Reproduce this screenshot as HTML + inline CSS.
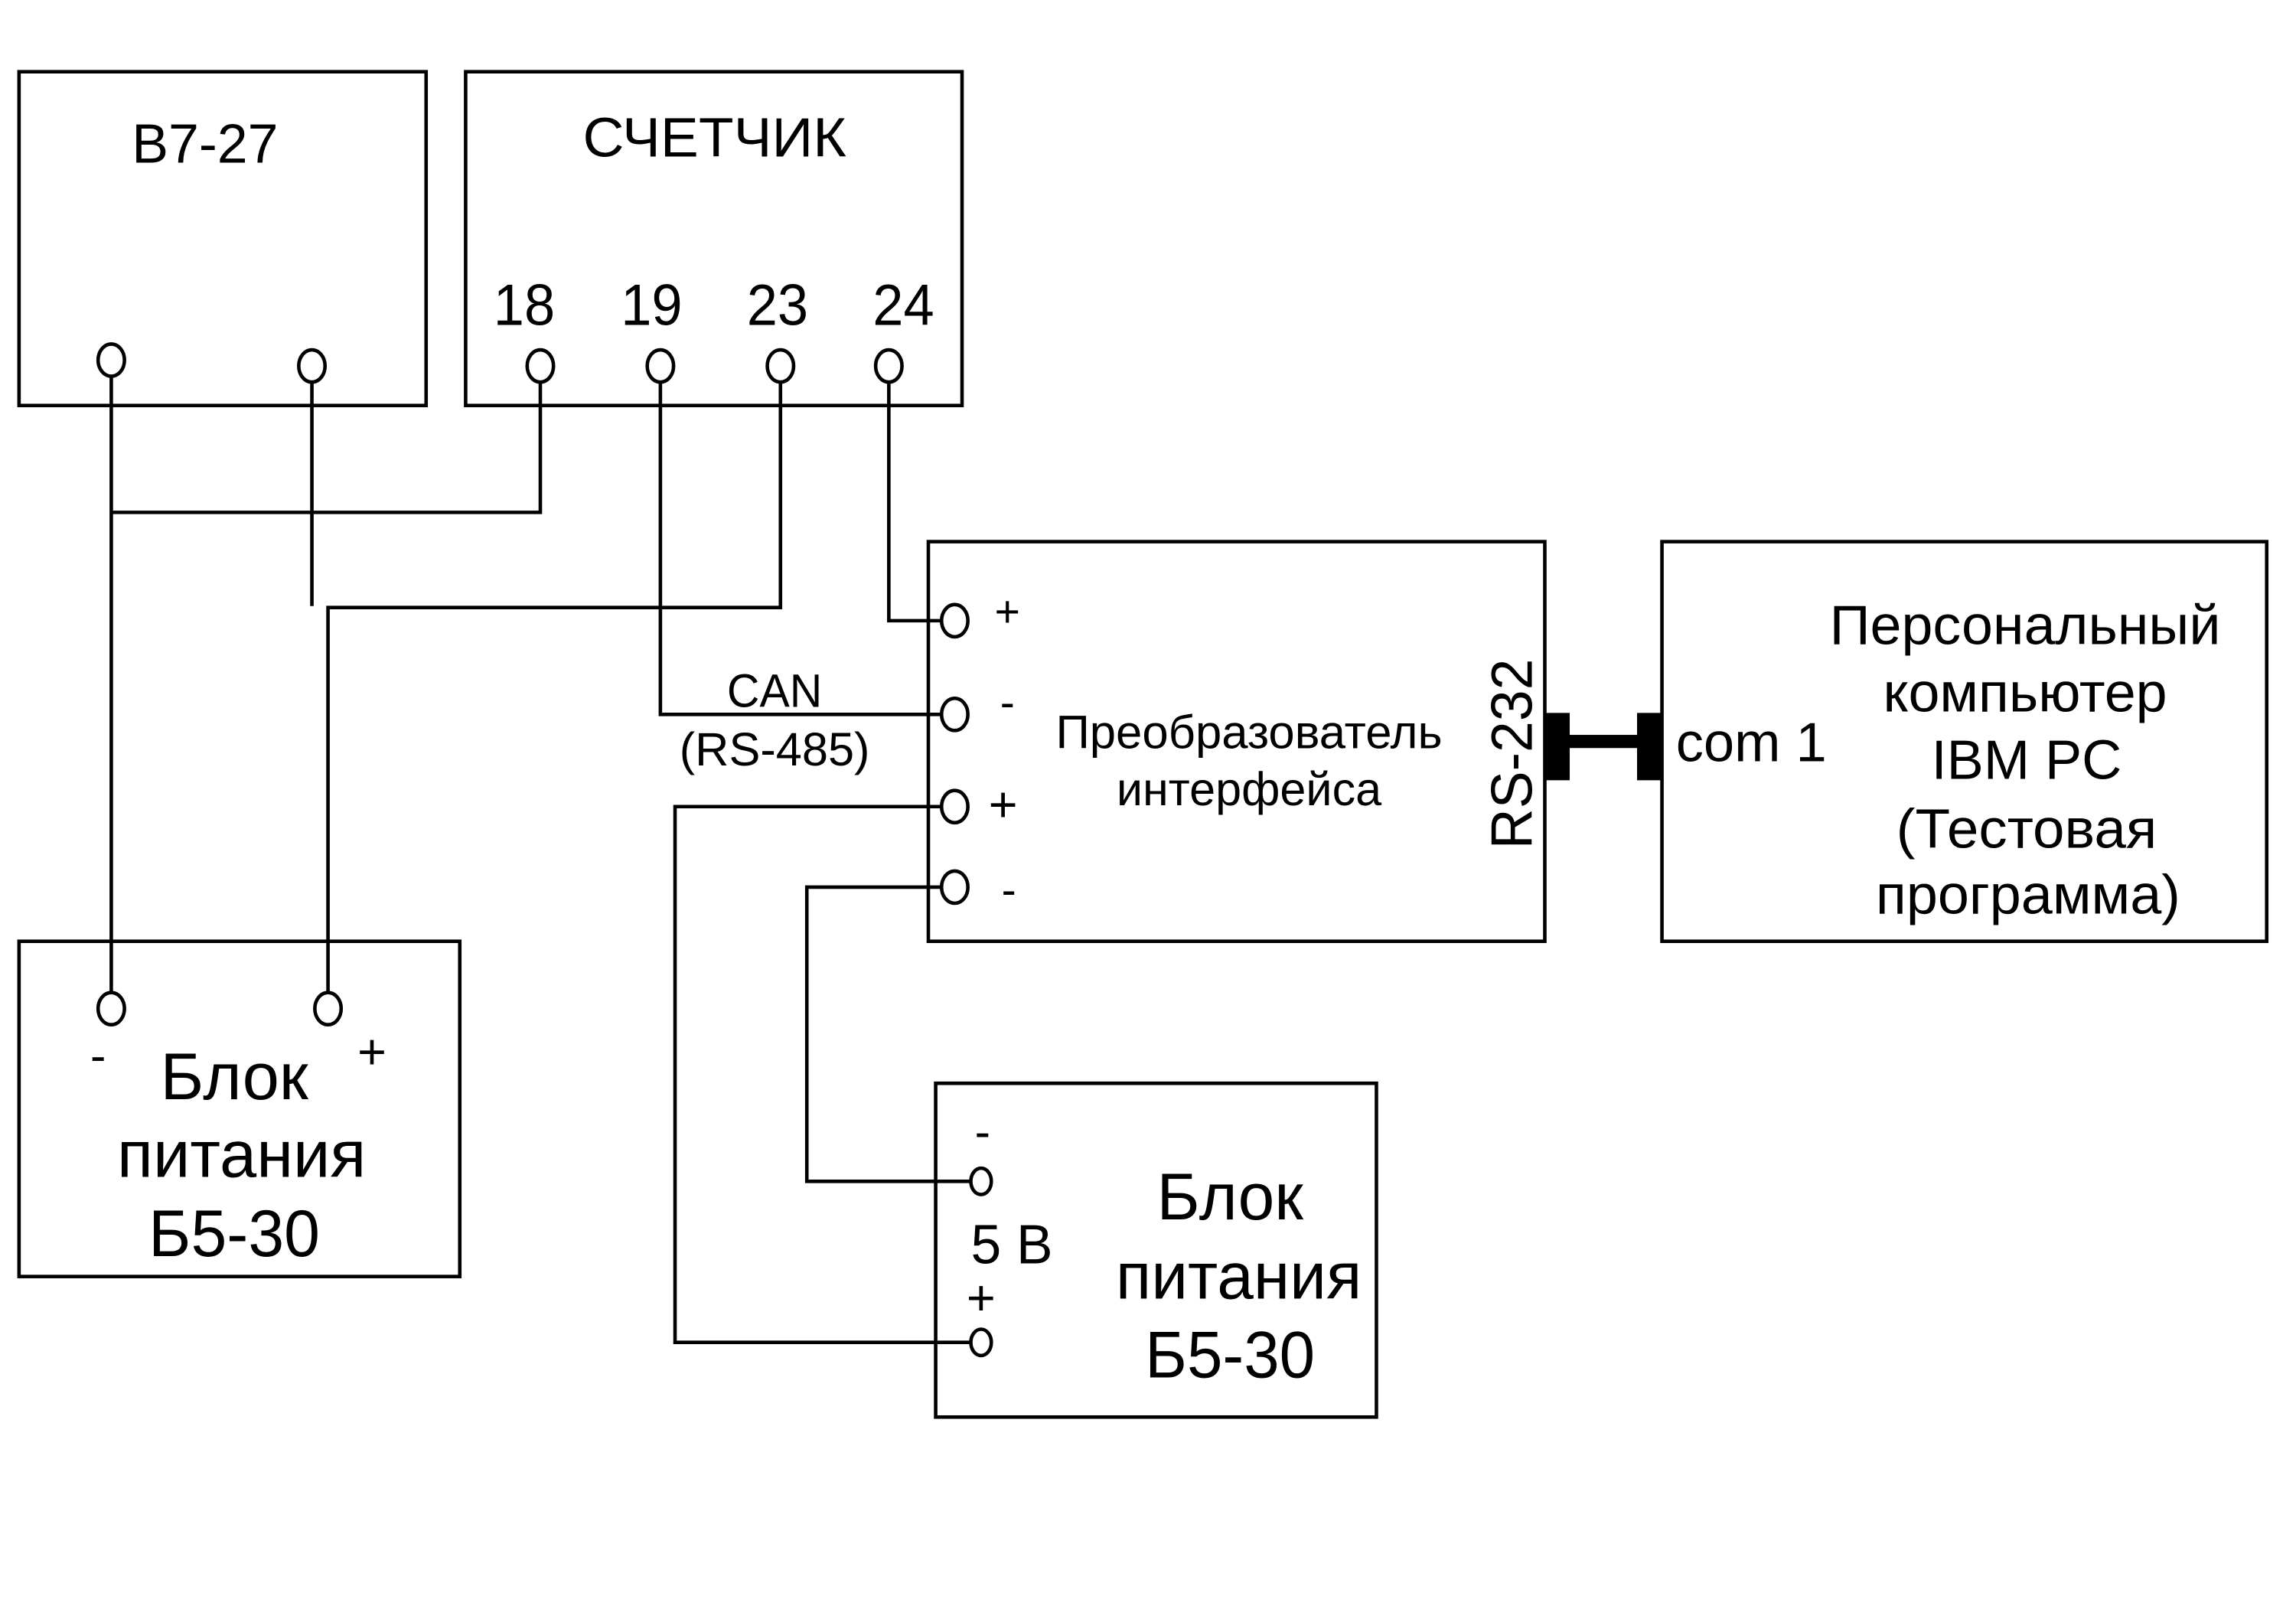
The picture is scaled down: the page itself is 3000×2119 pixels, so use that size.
<!DOCTYPE html>
<html><head><meta charset="utf-8"><style>html,body{margin:0;padding:0;background:#fff}svg{display:block}</style></head>
<body>
<svg width="3000" height="2119" viewBox="0 0 1568 1108" preserveAspectRatio="none" xmlns="http://www.w3.org/2000/svg" font-family="Liberation Sans, Arial, sans-serif" fill="#000">
<g fill="none" stroke="#000" stroke-width="2.4">
<rect x="13" y="49" width="278" height="228"/>
<rect x="318" y="49" width="339" height="228"/>
<rect x="634" y="370" width="421" height="273"/>
<rect x="1135" y="370" width="413" height="273"/>
<rect x="13" y="643" width="301" height="229"/>
<rect x="639" y="740" width="301" height="228"/>
<polyline points="76,257 76,678"/>
<polyline points="76,350 369,350 369,261"/>
<polyline points="213,261 213,414"/>
<polyline points="224,678 224,415 533,415 533,261"/>
<polyline points="451,261 451,488 642,488"/>
<polyline points="607,261 607,424 642,424"/>
<polyline points="642,551 461,551 461,917 662,917"/>
<polyline points="642,606 551,606 551,807 662,807"/>
<ellipse cx="76" cy="246" rx="9" ry="11"/>
<ellipse cx="213" cy="250" rx="9" ry="11"/>
<ellipse cx="369" cy="250" rx="9" ry="11"/>
<ellipse cx="451" cy="250" rx="9" ry="11"/>
<ellipse cx="533" cy="250" rx="9" ry="11"/>
<ellipse cx="607" cy="250" rx="9" ry="11"/>
<ellipse cx="652" cy="424" rx="9" ry="11"/>
<ellipse cx="652" cy="488" rx="9" ry="11"/>
<ellipse cx="652" cy="551" rx="9" ry="11"/>
<ellipse cx="652" cy="606" rx="9" ry="11"/>
<ellipse cx="76" cy="689" rx="9" ry="11"/>
<ellipse cx="224" cy="689" rx="9" ry="11"/>
<ellipse cx="670" cy="807" rx="7" ry="9"/>
<ellipse cx="670" cy="917" rx="7" ry="9"/>
</g>
<rect x="1055" y="487" width="17" height="46"/>
<rect x="1118" y="487" width="17" height="46"/>
<rect x="1070" y="502" width="50" height="9"/>
<g text-anchor="middle">
<text x="140" y="111" font-size="38" textLength="100" lengthAdjust="spacingAndGlyphs">В7-27</text>
<text x="488" y="107" font-size="38" textLength="180" lengthAdjust="spacingAndGlyphs">СЧЕТЧИК</text>
<text x="358" y="222" font-size="40" textLength="42" lengthAdjust="spacingAndGlyphs">18</text>
<text x="445" y="222" font-size="40" textLength="42" lengthAdjust="spacingAndGlyphs">19</text>
<text x="531" y="222" font-size="40" textLength="42" lengthAdjust="spacingAndGlyphs">23</text>
<text x="617" y="222" font-size="40" textLength="42" lengthAdjust="spacingAndGlyphs">24</text>
<text x="688" y="428" font-size="30">+</text>
<text x="688" y="490" font-size="30">-</text>
<text x="685" y="561" font-size="34">+</text>
<text x="689" y="618" font-size="30">-</text>
<text x="853" y="511" font-size="32" textLength="264" lengthAdjust="spacingAndGlyphs">Преобразователь</text>
<text x="853" y="550" font-size="32" textLength="181" lengthAdjust="spacingAndGlyphs">интерфейса</text>
<text x="529" y="483" font-size="32" textLength="65" lengthAdjust="spacingAndGlyphs">CAN</text>
<text x="529" y="523" font-size="32" textLength="130" lengthAdjust="spacingAndGlyphs">(RS-485)</text>
<text transform="translate(1046,515) rotate(-90)" font-size="40" textLength="130" lengthAdjust="spacingAndGlyphs">RS-232</text>
<text x="1196" y="520" font-size="38" textLength="103" lengthAdjust="spacingAndGlyphs">com 1</text>
<text x="1383" y="440" font-size="38" textLength="267" lengthAdjust="spacingAndGlyphs">Персональный</text>
<text x="1383" y="486" font-size="38" textLength="194" lengthAdjust="spacingAndGlyphs">компьютер</text>
<text x="1384" y="532" font-size="38" textLength="130" lengthAdjust="spacingAndGlyphs">IBM PC</text>
<text x="1384" y="579" font-size="38" textLength="178" lengthAdjust="spacingAndGlyphs">(Тестовая</text>
<text x="1385" y="624" font-size="38" textLength="208" lengthAdjust="spacingAndGlyphs">программа)</text>
<text x="67" y="732" font-size="32">-</text>
<text x="254" y="730" font-size="34">+</text>
<text x="160" y="751" font-size="45" textLength="101" lengthAdjust="spacingAndGlyphs">Блок</text>
<text x="165" y="804" font-size="45" textLength="170" lengthAdjust="spacingAndGlyphs">питания</text>
<text x="160" y="858" font-size="45" textLength="117" lengthAdjust="spacingAndGlyphs">Б5-30</text>
<text x="671" y="784" font-size="32">-</text>
<text x="691" y="863" font-size="38" textLength="56" lengthAdjust="spacingAndGlyphs">5 В</text>
<text x="670" y="898" font-size="34">+</text>
<text x="840" y="833" font-size="45" textLength="100" lengthAdjust="spacingAndGlyphs">Блок</text>
<text x="846" y="887" font-size="45" textLength="168" lengthAdjust="spacingAndGlyphs">питания</text>
<text x="840" y="941" font-size="45" textLength="116" lengthAdjust="spacingAndGlyphs">Б5-30</text>
</g>
</svg>
</body></html>
